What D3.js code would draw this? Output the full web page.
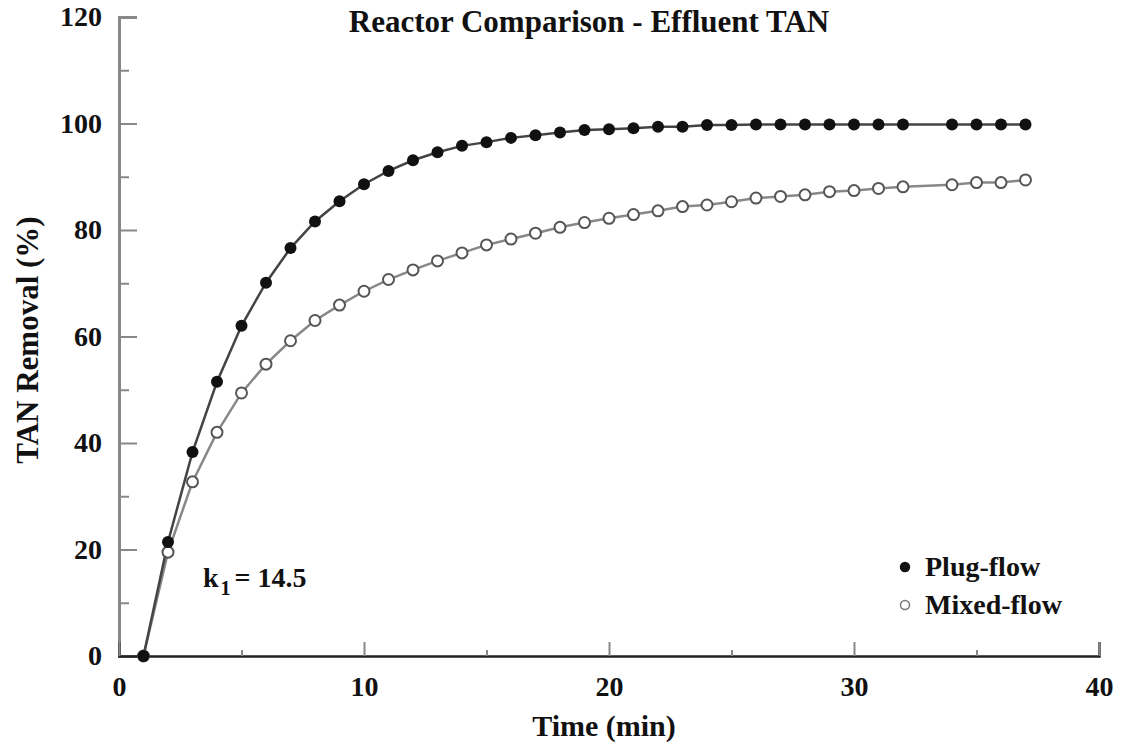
<!DOCTYPE html>
<html>
<head>
<meta charset="utf-8">
<script src="https://cdn.jsdelivr.net/npm/d3@7"></script>
<style>
  body { margin: 0; background: #fff; }
  text { font-family: 'Liberation Serif', 'Times New Roman', serif; font-weight: bold; fill: #111; }
</style>
</head>
<body>
<div id="chart"></div>
<script>
// time (min), missing 33 in the original
const time = [1, 2, 3, 4, 5, 6, 7, 8, 9, 10, 11, 12, 13, 14, 15, 16, 17, 18, 19, 20,
  21, 22, 23, 24, 25, 26, 27, 28, 29, 30, 31, 32, 34, 35, 36, 37];
const plugFlow = [0, 21.4, 38.3, 51.5, 62.0, 70.1, 76.6, 81.6, 85.4, 88.6, 91.1, 93.1, 94.6, 95.8, 96.5, 97.3, 97.8, 98.3, 98.8, 98.9,
  99.1, 99.4, 99.4, 99.7, 99.7, 99.8, 99.8, 99.8, 99.8, 99.8, 99.8, 99.8, 99.8, 99.8, 99.8, 99.8];
const mixedFlow = [0, 19.5, 32.7, 42.0, 49.4, 54.8, 59.2, 63.0, 65.9, 68.5, 70.7, 72.5, 74.2, 75.7, 77.2, 78.3, 79.4, 80.5, 81.4, 82.2,
  82.9, 83.6, 84.4, 84.7, 85.3, 86.0, 86.3, 86.6, 87.2, 87.4, 87.8, 88.1, 88.5, 88.9, 88.9, 89.4];
const xTicks = [0, 10, 20, 30, 40];
const xMinor = [5, 15, 25, 35];
const yTicks = [0, 20, 40, 60, 80, 100, 120];
const yMinor = [10, 30, 50, 70, 90, 110];
const seriesNames = ['Plug-flow', 'Mixed-flow'];

function draw () {
  const svgWidth = 1122;
  const svgHeight = 749;
  const margin = { top: 17, right: 23, bottom: 93, left: 119 };
  const width = svgWidth - margin.left - margin.right;
  const height = svgHeight - margin.top - margin.bottom;

  const svg = d3.select('#chart')
    .append('svg')
    .attr('width', svgWidth)
    .attr('height', svgHeight);
  const g = svg.append('g')
    .attr('transform', `translate(${margin.left}, ${margin.top})`);

  const x = d3.scaleLinear().domain([0, 40]).range([0, width]);
  const y = d3.scaleLinear().domain([0, 120]).range([height, 0]);

  // y axis, ticks point inward
  const yAxis = g.append('g')
    .call(d3.axisLeft(y).tickValues(yTicks).tickSize(-18).tickPadding(17));
  g.append('g')
    .call(d3.axisLeft(y).tickValues(yMinor).tickSize(-10).tickFormat(''))
    .select('.domain').remove();
  yAxis.select('.domain').attr('stroke', '#888').attr('stroke-width', 3);

  // x axis
  const xAxis = g.append('g')
    .attr('transform', `translate(0, ${height})`)
    .call(d3.axisBottom(x).tickValues(xTicks).tickSize(-14).tickPadding(20));
  g.append('g')
    .attr('transform', `translate(0, ${height})`)
    .call(d3.axisBottom(x).tickValues(xMinor).tickSize(-6).tickFormat(''))
    .select('.domain').remove();
  xAxis.select('.domain').attr('stroke', '#222').attr('stroke-width', 2.5);

  g.selectAll('.tick line').attr('stroke', '#888').attr('stroke-width', 2);
  g.selectAll('.tick text')
    .attr('font-family', "'Liberation Serif', serif")
    .attr('font-weight', 'bold')
    .attr('font-size', 28)
    .attr('fill', '#111');

  const line = d3.line()
    .x((d, i) => x(time[i]))
    .y(d => y(d));

  g.append('path')
    .datum(mixedFlow)
    .attr('fill', 'none')
    .attr('stroke', '#888')
    .attr('stroke-width', 2.5)
    .attr('d', line);

  g.append('path')
    .datum(plugFlow)
    .attr('fill', 'none')
    .attr('stroke', '#444')
    .attr('stroke-width', 2.5)
    .attr('d', line);

  g.selectAll('.mixed')
    .data(mixedFlow)
    .enter().append('circle')
    .attr('class', 'mixed')
    .attr('cx', (d, i) => x(time[i]))
    .attr('cy', d => y(d))
    .attr('r', 5.5)
    .attr('fill', '#fff')
    .attr('stroke', '#555')
    .attr('stroke-width', 2);

  g.selectAll('.plug')
    .data(plugFlow)
    .enter().append('circle')
    .attr('class', 'plug')
    .attr('cx', (d, i) => x(time[i]))
    .attr('cy', d => y(d))
    .attr('r', 6)
    .attr('fill', '#111');

  // title and axis labels
  svg.append('text')
    .attr('x', 589)
    .attr('y', 32)
    .attr('text-anchor', 'middle')
    .attr('font-size', 31)
    .text('Reactor Comparison - Effluent TAN');

  svg.append('text')
    .attr('x', 604)
    .attr('y', 736)
    .attr('text-anchor', 'middle')
    .attr('font-size', 30)
    .text('Time (min)');

  svg.append('text')
    .attr('transform', 'translate(38, 340) rotate(-90)')
    .attr('text-anchor', 'middle')
    .attr('font-size', 31)
    .text('TAN Removal (%)');

  // rate constant note
  const note = svg.append('text')
    .attr('x', 203)
    .attr('y', 587)
    .attr('font-size', 28);
  note.append('tspan').text('k');
  note.append('tspan').attr('font-size', 20).attr('dy', 8).attr('dx', 2).text('1');
  note.append('tspan').attr('dy', -8).attr('dx', 4).text('= 14.5');

  // legend
  const legend = svg.append('g');
  seriesNames.forEach((name, i) => {
    const ly = 567 + i * 38;
    legend.append('circle')
      .attr('cx', 905)
      .attr('cy', ly)
      .attr('r', 4.5)
      .attr('fill', i === 0 ? '#111' : '#fff')
      .attr('stroke', i === 0 ? '#111' : '#777')
      .attr('stroke-width', 1.5);
    legend.append('text')
      .attr('x', 925)
      .attr('y', ly + 9)
      .attr('font-size', 28)
      .text(name);
  });
}
draw();
</script>
</body>
</html>
